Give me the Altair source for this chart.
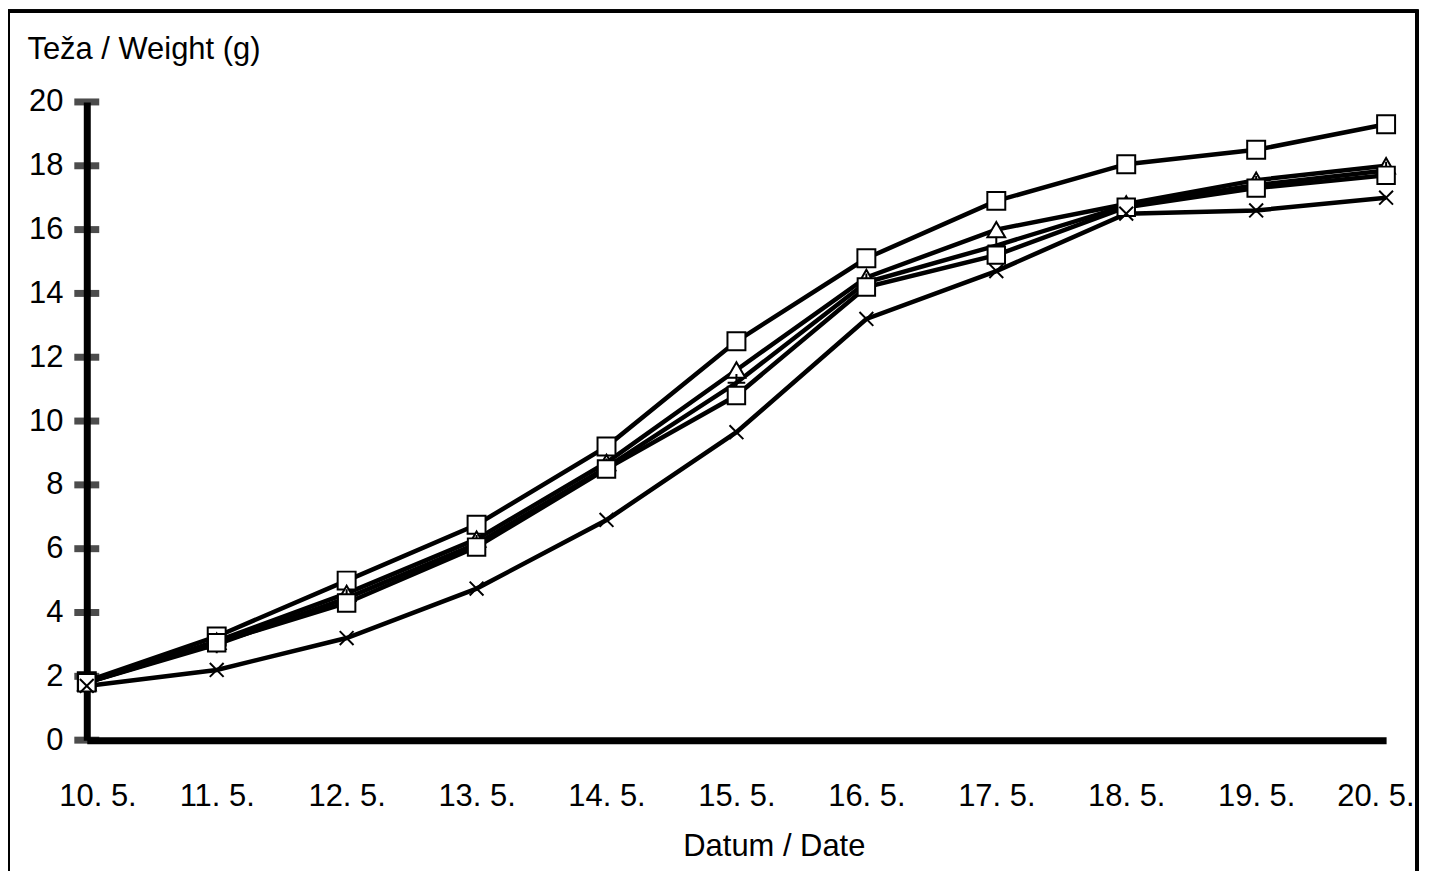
import altair as alt
import pandas as pd

dates = ["10. 5.", "11. 5.", "12. 5.", "13. 5.", "14. 5.", "15. 5.",
         "16. 5.", "17. 5.", "18. 5.", "19. 5.", "20. 5."]
series_names = ["A", "B", "C", "D", "E"]
s_a = [1.85, 3.25, 5.0, 6.75, 9.2, 12.5, 15.1, 16.9, 18.05, 18.5, 19.3]
s_b = [1.8, 3.1, 4.6, 6.3, 8.7, 11.6, 14.5, 16.0, 16.8, 17.55, 18.0]
s_c = [1.8, 3.0, 4.45, 6.15, 8.55, 11.2, 14.35, 15.5, 16.75, 17.4, 17.85]
s_d = [1.8, 3.05, 4.3, 6.05, 8.5, 10.8, 14.2, 15.2, 16.7, 17.3, 17.7]
s_e = [1.7, 2.2, 3.2, 4.75, 6.9, 9.65, 13.2, 14.7, 16.5, 16.6, 17.0]
y_ticks = [0, 2, 4, 6, 8, 10, 12, 14, 16, 18, 20]

rows = []
for name, vals in zip(series_names, [s_a, s_b, s_c, s_d, s_e]):
    for d, v in zip(dates, vals):
        rows.append({"date": d, "weight": v, "series": name})
df = pd.DataFrame(rows)
df_dates = pd.DataFrame({"date": dates})
df_y = pd.DataFrame({"v": y_ticks})

FONT = "Liberation Sans"
PLUS = "M-1,0L1,0M0,-1L0,1"
XSHAPE = "M-0.8,-0.8L0.8,0.8M0.8,-0.8L-0.8,0.8"

xscale = alt.Scale(type="point", padding=0)
yscale = alt.Scale(domain=[0, 20], nice=False)

x_enc = alt.X("date:O", sort=dates, scale=xscale,
              axis=alt.Axis(title="Datum / Date", labelAngle=0, ticks=False, tickSize=0,
                            grid=False,
                            labelPadding=66, labelBaseline="alphabetic",
                            labelFlush=True, labelFlushOffset=28,
                            labelFontSize=31, labelFont=FONT, labelColor="black",
                            titleFontSize=31, titleFont=FONT, titleFontWeight="normal",
                            titleColor="black", titleX=689, titleY=116,
                            titleBaseline="alphabetic", titleAlign="center",
                            domainColor="black", domainWidth=7))
y_enc = alt.Y("weight:Q", scale=yscale,
              axis=alt.Axis(title="Teža / Weight (g)", values=y_ticks, ticks=False, tickSize=0,
                            grid=False, labelPadding=24, labelFontSize=31, labelFont=FONT,
                            labelColor="black", titleFontSize=31, titleFont=FONT,
                            titleFontWeight="normal", titleColor="black", titleAngle=0,
                            titleAlign="left", titleBaseline="alphabetic",
                            titleX=-60, titleY=-44,
                            domainColor="black", domainWidth=7))

lines = alt.Chart(df).mark_line(color="black", strokeWidth=4.5).encode(
    x=x_enc, y=y_enc, detail="series:N")

points = alt.Chart(df).mark_point(fill="white", stroke="black", strokeWidth=2,
                                  opacity=1, fillOpacity=1).encode(
    x=alt.X("date:O", sort=dates, scale=xscale),
    y=alt.Y("weight:Q", scale=yscale),
    shape=alt.Shape("series:N", scale=alt.Scale(domain=series_names,
                    range=["square", "triangle-up", PLUS, "square", XSHAPE]), legend=None),
    size=alt.Size("series:N", scale=alt.Scale(domain=series_names,
                  range=[324, 300, 400, 324, 400]), legend=None),
)

xticks = alt.Chart(df_dates).mark_tick(color="black", size=22, thickness=7).encode(
    x=alt.X("date:O", sort=dates, scale=xscale), y=alt.value(640))
yticks = alt.Chart(df_y).mark_tick(color="black", size=25, thickness=7).encode(
    y=alt.Y("v:Q", scale=yscale), x=alt.value(0))

border = alt.Chart(df_dates).mark_rect(fill=None, stroke="black", strokeWidth=3).encode(
    x=alt.value(-79), x2=alt.value(1334), y=alt.value(-91), y2=alt.value(830))

chart = alt.layer(border, lines, xticks, yticks, points).properties(
    width=1303, height=640,
    background="white",
    autosize=alt.AutoSizeParams(type="none"),
    padding={"left": 79, "top": 93, "right": 36, "bottom": 130},
).configure_view(strokeWidth=0, stroke="transparent")

chart.save("out.html", embed_options={"renderer": "svg", "actions": False})
